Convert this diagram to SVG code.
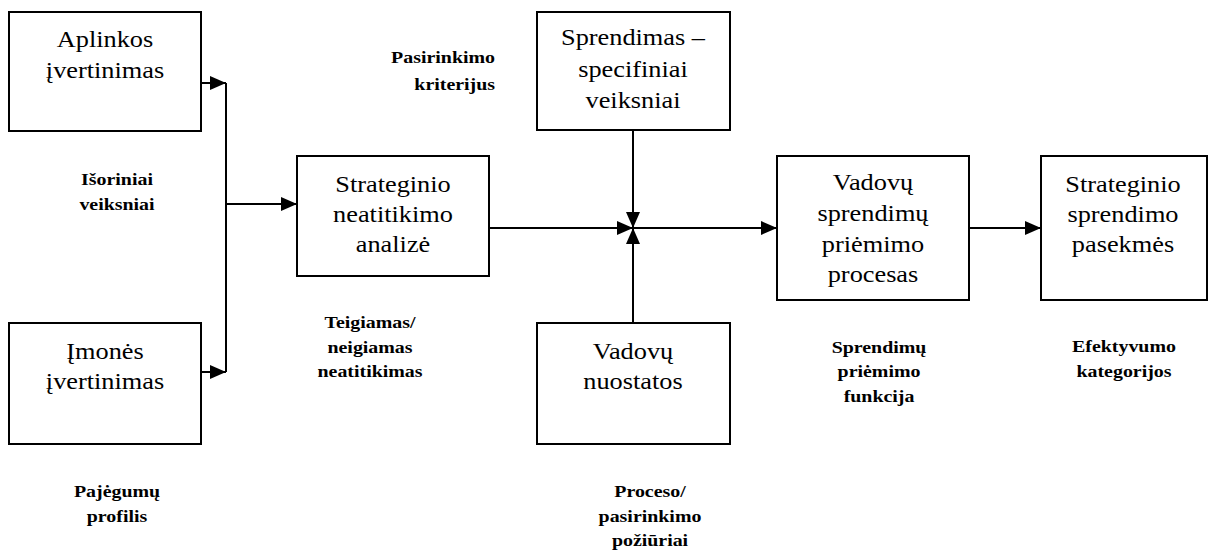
<svg xmlns="http://www.w3.org/2000/svg" width="1209" height="551" viewBox="0 0 1209 551">
  <style>
    .box { fill: #ffffff; stroke: #000000; stroke-width: 2; }
    .lbl { font-size: 22.5px; fill: #000000; text-anchor: middle; }
    .note { font-size: 17px; font-weight: bold; fill: #000000; text-anchor: middle; }
    .note-r { text-anchor: end; }
    .wire { fill: none; stroke: #000000; stroke-width: 2; }
  </style>
  <defs>
    <marker id="arrow" markerUnits="userSpaceOnUse" markerWidth="16" markerHeight="14" refX="16" refY="7" orient="auto">
      <path d="M0,0 L16,7 L0,14 Z" fill="#000000"/>
    </marker>
  </defs>

  <rect width="1209" height="551" fill="#ffffff"/>

  <!-- connectors -->
  <g id="connectors">
    <path class="wire" d="M201,83 H226" marker-end="url(#arrow)"/>
    <path class="wire" d="M201,372 H226" marker-end="url(#arrow)"/>
    <path class="wire" d="M226,83 V372"/>
    <path class="wire" d="M226,204 H297" marker-end="url(#arrow)"/>
    <path class="wire" d="M489,228 H633" marker-end="url(#arrow)"/>
    <path class="wire" d="M633,130 V228" marker-end="url(#arrow)"/>
    <path class="wire" d="M633,323 V228" marker-end="url(#arrow)"/>
    <path class="wire" d="M633,228 H777" marker-end="url(#arrow)"/>
    <path class="wire" d="M969,228 H1041" marker-end="url(#arrow)"/>
  </g>

  <g font-family="'Liberation Serif', 'Times New Roman', Tinos, 'DejaVu Serif', serif">
  <!-- nodes -->
  <g id="aplinkos">
    <rect class="box" x="9" y="12" width="192" height="119"/>
    <g transform="translate(105 0) scale(1.17 1)">
      <text class="lbl" x="0" y="47">Aplinkos</text>
      <text class="lbl" x="0" y="78">įvertinimas</text>
    </g>
  </g>

  <g id="imones">
    <rect class="box" x="9" y="323" width="192" height="121"/>
    <g transform="translate(105 0) scale(1.17 1)">
      <text class="lbl" x="0" y="359">Įmonės</text>
      <text class="lbl" x="0" y="389">įvertinimas</text>
    </g>
  </g>

  <g id="neatitikimo-analize">
    <rect class="box" x="297" y="156" width="192" height="120"/>
    <g transform="translate(393 0) scale(1.17 1)">
      <text class="lbl" x="0" y="192">Strateginio</text>
      <text class="lbl" x="0" y="222">neatitikimo</text>
      <text class="lbl" x="0" y="252">analizė</text>
    </g>
  </g>

  <g id="sprendimas">
    <rect class="box" x="537" y="12" width="193" height="118"/>
    <g transform="translate(633 0) scale(1.17 1)">
      <text class="lbl" x="0" y="45">Sprendimas –</text>
      <text class="lbl" x="0" y="77">specifiniai</text>
      <text class="lbl" x="0" y="108">veiksniai</text>
    </g>
  </g>

  <g id="nuostatos">
    <rect class="box" x="537" y="323" width="193" height="121"/>
    <g transform="translate(633 0) scale(1.17 1)">
      <text class="lbl" x="0" y="359">Vadovų</text>
      <text class="lbl" x="0" y="389">nuostatos</text>
    </g>
  </g>

  <g id="priemimo-procesas">
    <rect class="box" x="777" y="156" width="192" height="144"/>
    <g transform="translate(873 0) scale(1.17 1)">
      <text class="lbl" x="0" y="190">Vadovų</text>
      <text class="lbl" x="0" y="221">sprendimų</text>
      <text class="lbl" x="0" y="252">priėmimo</text>
      <text class="lbl" x="0" y="282">procesas</text>
    </g>
  </g>

  <g id="pasekmes">
    <rect class="box" x="1041" y="156" width="166" height="144"/>
    <g transform="translate(1123 0) scale(1.17 1)">
      <text class="lbl" x="0" y="192">Strateginio</text>
      <text class="lbl" x="0" y="222">sprendimo</text>
      <text class="lbl" x="0" y="252">pasekmės</text>
    </g>
  </g>

  <!-- free-standing labels -->
  <g id="labels">
    <g transform="translate(117 0) scale(1.17 1)">
      <text class="note" x="0" y="185">Išoriniai</text>
      <text class="note" x="0" y="210">veiksniai</text>
    </g>
    <g transform="translate(117 0) scale(1.17 1)">
      <text class="note" x="0" y="497">Pajėgumų</text>
      <text class="note" x="0" y="522">profilis</text>
    </g>
    <g transform="translate(495 0) scale(1.17 1)">
      <text class="note note-r" x="0" y="63">Pasirinkimo</text>
      <text class="note note-r" x="0" y="90">kriterijus</text>
    </g>
    <g transform="translate(370 0) scale(1.17 1)">
      <text class="note" x="0" y="328">Teigiamas/</text>
      <text class="note" x="0" y="353">neigiamas</text>
      <text class="note" x="0" y="377">neatitikimas</text>
    </g>
    <g transform="translate(650 0) scale(1.17 1)">
      <text class="note" x="0" y="497">Proceso/</text>
      <text class="note" x="0" y="522">pasirinkimo</text>
      <text class="note" x="0" y="546">požiūriai</text>
    </g>
    <g transform="translate(879 0) scale(1.17 1)">
      <text class="note" x="0" y="353">Sprendimų</text>
      <text class="note" x="0" y="377">priėmimo</text>
      <text class="note" x="0" y="402">funkcija</text>
    </g>
    <g transform="translate(1124 0) scale(1.17 1)">
      <text class="note" x="0" y="352">Efektyvumo</text>
      <text class="note" x="0" y="377">kategorijos</text>
    </g>
  </g>
  </g>
</svg>
